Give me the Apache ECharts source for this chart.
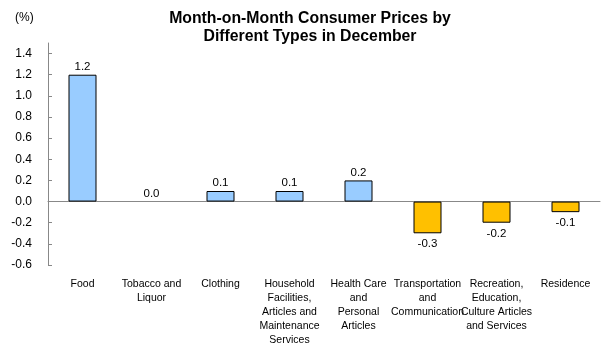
<!DOCTYPE html>
<html>
<head>
<meta charset="utf-8">
<script src="https://cdn.jsdelivr.net/npm/echarts@6/dist/echarts.min.js"></script>
<style>
  html, body { margin: 0; padding: 0; background: #fff; }
  #chart { width: 610px; height: 351px; }
</style>
</head>
<body>
<div id="chart"></div>
<script>
// categories and values
var categories = [
  "Food",
  "Tobacco and\nLiquor",
  "Clothing",
  "Household\nFacilities,\nArticles and\nMaintenance\nServices",
  "Health Care\nand\nPersonal\nArticles",
  "Transportation\nand\nCommunication",
  "Recreation,\nEducation,\nCulture Articles\nand Services",
  "Residence"
];
var values = [1.2, 0.0, 0.1, 0.1, 0.2, -0.3, -0.2, -0.1];

var chart = echarts.init(document.getElementById("chart"));
var font = "Liberation Sans, Arial, sans-serif";

chart.setOption({
  animation: false,
  textStyle: { fontFamily: font },
  title: {
    text: "Month-on-Month Consumer Prices by\nDifferent Types in December",
    left: 305,
    textAlign: "center",
    top: 5,
    textStyle: { fontSize: 15.8, fontWeight: "bold", color: "#000", lineHeight: 18, fontFamily: font }
  },
  graphic: [{
    type: "text",
    left: 15,
    top: 12,
    style: { text: "(%)", fontSize: 12, fill: "#000", fontFamily: font }
  }],
  grid: { left: 48, right: 10, top: 43, bottom: 86 },
  xAxis: [{
    type: "category",
    data: categories,
    position: "bottom",
    axisLine: { show: false, onZero: false },
    axisTick: { show: false },
    axisLabel: {
      interval: 0,
      margin: 12,
      fontSize: 10.5,
      lineHeight: 14,
      color: "#000",
      verticalAlign: "top",
      fontFamily: font
    }
  }, {
    type: "category",
    data: categories,
    position: "bottom",
    axisLine: { show: true, onZero: true, lineStyle: { color: "#888", width: 1 } },
    axisTick: { show: false },
    axisLabel: { show: false }
  }],
  yAxis: {
    type: "value",
    min: -0.6,
    max: 1.5,
    interval: 0.2,
    axisLine: { show: true, lineStyle: { color: "#888" } },
    axisTick: { show: true, inside: true, length: 4, lineStyle: { color: "#888" } },
    splitLine: { show: false },
    axisLabel: {
      showMaxLabel: false,
      fontSize: 12,
      color: "#000",
      margin: 16,
      fontFamily: font,
      formatter: function (v) { return v.toFixed(1); }
    }
  },
  series: [{
    type: "bar",
    xAxisIndex: 0,
    barWidth: 28,
    data: values.map(function (v) {
      return {
        value: v,
        itemStyle: {
          color: v < 0 ? "#FFC000" : "#99CCFF",
          borderColor: "#000",
          borderWidth: v === 0 ? 0 : 1
        },
        label: { position: v < 0 ? "bottom" : "top", distance: v < 0 ? 5 : 2 }
      };
    }),
    label: {
      show: true,
      fontSize: 11.5,
      color: "#000",
      fontFamily: font,
      formatter: function (p) { return p.value.toFixed(1); }
    }
  }]
});
</script>
</body>
</html>
